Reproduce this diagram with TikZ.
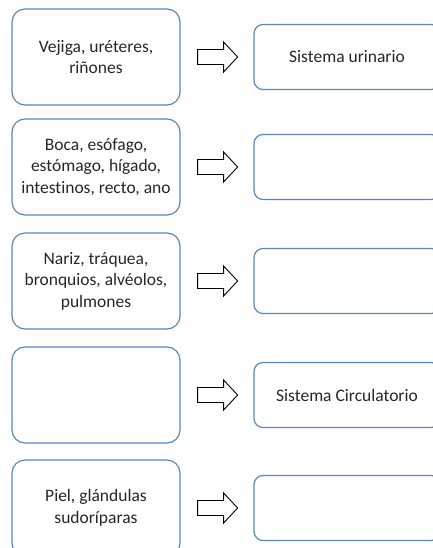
\documentclass[tikz,border=0pt]{standalone}
\usepackage{fontspec}
\setmainfont{Carlito}[Ligatures=NoCommon]
\usetikzlibrary{calc}
\definecolor{bd}{RGB}{91,134,188}
\definecolor{tx}{RGB}{38,38,38}
\begin{document}
\begin{tikzpicture}[x=1pt,y=-1pt,
 lbox/.style={draw=bd, line width=1.2pt, rounded corners=13pt, minimum width=168pt, minimum height=96pt, align=center, font=\fontsize{17.5}{21.5}\selectfont, text=tx, inner sep=0pt},
 rbox/.style={draw=bd, line width=1.2pt, rounded corners=9pt, minimum width=186pt, minimum height=65pt, align=center, font=\fontsize{17.5}{21.5}\selectfont, text=tx, inner sep=0pt},
 blockarrow/.style={draw=black, line width=0.9pt, fill=white, line join=miter}
]
\useasboundingbox (0,0) rectangle (432,548);
\node[lbox] (L1) at (96,57) {Vejiga, uréteres,\\riñones};
\node[lbox] (L2) at (96,167) {Boca, esófago,\\estómago, hígado,\\intestinos, recto, ano};
\node[lbox] (L3) at (96,281) {Nariz, tráquea,\\bronquios, alvéolos,\\pulmones};
\node[lbox] (L4) at (96,395) {};
\node[lbox] (L5) at (96,508) {Piel, glándulas\\sudoríparas};
\node[rbox] (R1) at (347,57) {Sistema urinario};
\node[rbox] (R2) at (347,167) {};
\node[rbox] (R3) at (347,281) {};
\node[rbox] (R4) at (347,395) {Sistema Circulatorio};
\node[rbox] (R5) at (347,508) {};
\foreach \i in {1,...,5}{
  \coordinate (A\i) at ($(L\i.east)+(17,0)$);
  \draw[blockarrow] (A\i) ++(0,-7.5) -- ++(26,0) -- ++(0,-7.5) -- ++(14,15) -- ++(-14,15) -- ++(0,-7.5) -- ++(-26,0) -- cycle;
}
\end{tikzpicture}
\end{document}
